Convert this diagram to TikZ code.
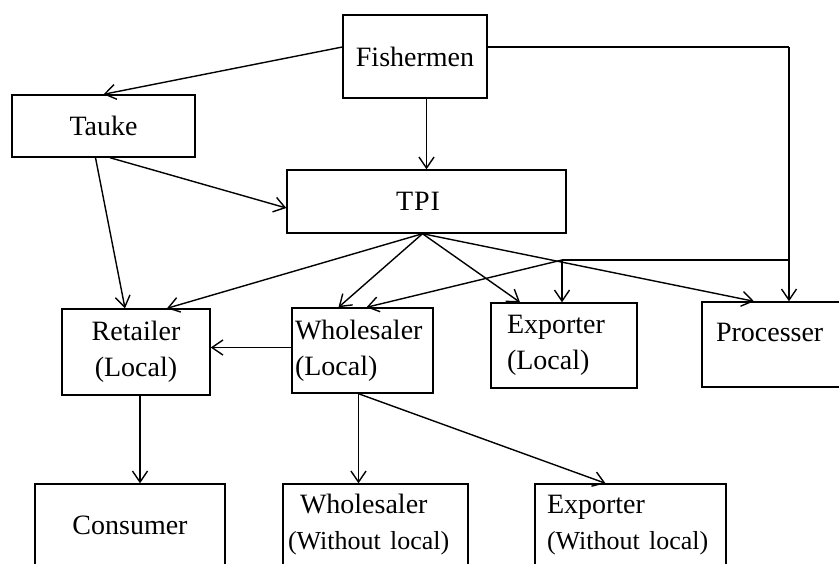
\documentclass[tikz,border=0pt]{standalone}
\usepackage{fontspec}
\setmainfont{Liberation Serif}
\usetikzlibrary{arrows.meta,positioning}

\begin{document}
\begin{tikzpicture}[x=0.5pt,y=-0.5pt,
  >={Straight Barb[length=5.5pt,width=7.5pt]},
  every node/.style={font=\fontsize{14}{18}\selectfont},
  box/.style={draw,line width=0.7pt,inner sep=0pt,align=center},
  flow/.style={->,line width=0.7pt}]
  \useasboundingbox (0,0) rectangle (839,563);
  \clip (0,0) rectangle (839,563);

  % 箱
  \node[box,minimum width=72pt,minimum height=41.5pt] (Fish) at (415,56.5) {Fishermen};
  \node[box,minimum width=91.5pt,minimum height=31pt] (Tauke) at (103.5,126) {Tauke};
  \node[box,minimum width=139.5pt,minimum height=31.5pt] (TPI) at (426.5,201.5) {T\kern0.5pt P\kern0.5pt I\kern8.5pt};
  \node[box,minimum width=74pt,minimum height=43pt] (Ret) at (136,352) {Retailer\\(Local)};
  \node[box,minimum height=42.5pt,text width=67.5pt,inner xsep=1.5pt,align=left] (WhoL) at (362.5,350.5) {Wholesaler\\(Local)};
  \node[box,minimum height=42.5pt,text width=57pt,inner xsep=8pt,align=left] (ExpL) at (564,345.5) {Exporter\\(Local)};
  \node[box,minimum height=42.5pt,text width=55pt,inner xsep=7pt,align=left,text height=10pt,text depth=13.3pt] (Proc) at (771,344.5) {Processer};
  \node[box,minimum width=95pt,minimum height=41pt] (Cons) at (130,525) {Consumer};
  \node[box,minimum height=41pt,text width=87.5pt,inner xsep=2.5pt,align=left] (WhoWL) at (375.5,525) {\hspace*{6pt}Wholesaler\\{\fontsize{13}{18}\selectfont (Without local)}};
  \node[box,minimum height=41pt,text width=83.5pt,inner xsep=6pt,align=left] (ExpWL) at (630.5,525) {Exporter\\{\fontsize{13}{18}\selectfont (Without local)}};

  % 線と矢印
  \coordinate (corner) at (789,47);
  \coordinate (branch) at (789,260);
  \coordinate (split) at (562,260);
  \coordinate (fan) at ([xshift=-2pt]TPI.south);
  \coordinate (out) at ([xshift=-2pt]WhoL.south);

  \draw[flow] (Fish.west |- corner) -- (Tauke.north);
  \draw[flow] (Fish.south -| TPI.north) -- (TPI.north);
  \draw[line width=0.7pt] (Fish.east |- corner) -- (corner);
  \draw[flow] (corner) -- (corner |- Proc.north);
  \draw[line width=0.7pt] (branch) -- (split);
  \draw[flow] (split) -- (split |- ExpL.north);
  \draw[flow] (split) -- ([xshift=2pt]WhoL.north);

  \draw[flow] ([xshift=3.25pt]Tauke.south) -- ([yshift=-3.25pt]TPI.west);
  \draw[flow] ([xshift=-4pt]Tauke.south) -- ([xshift=-5.5pt]Ret.north);

  \draw[flow] (fan) -- ([xshift=15.5pt]Ret.north);
  \draw[flow] (fan) -- ([xshift=-12pt]WhoL.north);
  \draw[flow] (fan) -- ([xshift=-22pt]ExpL.north);
  \draw[flow] (fan) -- ([xshift=-8.5pt]Proc.north);

  \draw[flow] ([yshift=1.5pt]WhoL.west) -- ([yshift=1.5pt]WhoL.west -| Ret.east);
  \draw[flow] ([xshift=2pt]Ret.south) -- ([xshift=2pt]Ret.south |- Cons.north);
  \draw[flow] (out) -- (out |- WhoWL.north);
  \draw[flow] (out) -- ([xshift=-12.5pt]ExpWL.north);
\end{tikzpicture}
\end{document}
